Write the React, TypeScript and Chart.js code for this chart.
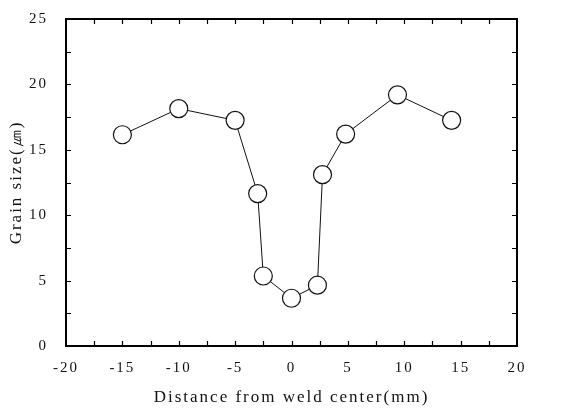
import React, { useEffect, useRef } from "react";
import { Chart, registerables } from "chart.js";

Chart.register(...registerables);

const distanceMm: number[] = [-15, -10, -5, -3, -2.5, 0, 2.3, 2.75, 4.8, 9.4, 14.2];
const grainSizeUm: number[] = [16.15, 18.15, 17.25, 11.65, 5.35, 3.65, 4.65, 13.1, 16.2, 19.2, 17.25];

const xMin = -20;
const xMax = 20;
const yMin = 0;
const yMax = 25;
const minorStep = 2.5;
const labelStep = 5;

const xTitle = "Distance from weld center(mm)";
const yTitle = "Grain size(㎛)";

const spacingPlugin = {
  id: "letterSpacing",
  beforeLayout(chart: any) {
    chart.ctx.letterSpacing = "2px";
  },
  beforeDraw(chart: any) {
    chart.ctx.letterSpacing = "2px";
  },
};

const framePlugin = {
  id: "frameTicks",
  afterDraw(chart: any) {
    const { ctx, chartArea } = chart;
    const { left, right, top, bottom } = chartArea;
    const xs = chart.scales.x;
    const ys = chart.scales.y;
    ctx.save();
    ctx.strokeStyle = "#000";
    ctx.lineWidth = 2;
    ctx.strokeRect(left, top, right - left, bottom - top);
    ctx.lineWidth = 1.2;
    const len = 5;
    ctx.beginPath();
    xs.ticks.forEach((t: any) => {
      const px = Math.round(xs.getPixelForValue(t.value)) + 0.5;
      if (px <= left + 1 || px >= right - 1) return;
      ctx.moveTo(px, bottom);
      ctx.lineTo(px, bottom - len);
      ctx.moveTo(px, top);
      ctx.lineTo(px, top + len);
    });
    ys.ticks.forEach((t: any) => {
      const py = Math.round(ys.getPixelForValue(t.value)) + 0.5;
      if (py <= top + 1 || py >= bottom - 1) return;
      ctx.moveTo(left, py);
      ctx.lineTo(left + len, py);
      ctx.moveTo(right, py);
      ctx.lineTo(right - len, py);
    });
    ctx.stroke();
    ctx.restore();
  },
};

export default function App() {
  const ref = useRef<HTMLCanvasElement | null>(null);
  useEffect(() => {
    if (!ref.current) return;
    Chart.defaults.font.family = "'Liberation Serif', 'DejaVu Serif', serif";
    Chart.defaults.color = "#111";
    const chart = new Chart(ref.current, {
      type: "scatter",
      data: {
        datasets: [
          {
            data: distanceMm.map((x, i) => ({ x, y: grainSizeUm[i] })),
            showLine: true,
            borderColor: "#111",
            borderWidth: 1,
            pointRadius: 9,
            pointHoverRadius: 9,
            pointBackgroundColor: "#fff",
            pointBorderColor: "#111",
            pointBorderWidth: 1.2,
            clip: false as any,
          },
        ],
      },
      options: {
        animation: false,
        responsive: false,
        layout: { padding: { left: 0, top: 15, right: 51, bottom: 0 } },
        plugins: { legend: { display: false }, tooltip: { enabled: false } },
        scales: {
          x: {
            type: "linear",
            min: xMin,
            max: xMax,
            grid: { display: false },
            border: { display: false },
            afterFit: (s: any) => {
              s.height = 66;
            },
            ticks: {
              stepSize: minorStep,
              autoSkip: false,
              maxRotation: 0,
              padding: 5,
              font: { size: 15 },
              callback: (v: any) => (Number(v) % labelStep === 0 ? String(v) : ""),
            },
            title: {
              display: true,
              text: xTitle,
              font: { size: 17 },
              padding: { top: 0, bottom: 4 },
            },
          },
          y: {
            type: "linear",
            min: yMin,
            max: yMax,
            grid: { display: false },
            border: { display: false },
            afterFit: (s: any) => {
              s.width = 66;
            },
            ticks: {
              stepSize: minorStep,
              autoSkip: false,
              padding: 10,
              font: { size: 15 },
              callback: (v: any) => (Number(v) % labelStep === 0 ? String(v) : ""),
            },
            title: {
              display: true,
              text: yTitle,
              font: { size: 17 },
              padding: { top: 6, bottom: 0 },
            },
          },
        },
      },
      plugins: [spacingPlugin, framePlugin],
    });
    return () => chart.destroy();
  }, []);
  return (
    <div style={{ position: "fixed", left: 0, top: 0, width: 568, height: 412, background: "#fff" }}>
      <canvas ref={ref} width={568} height={412} style={{ display: "block" }} />
    </div>
  );
}
